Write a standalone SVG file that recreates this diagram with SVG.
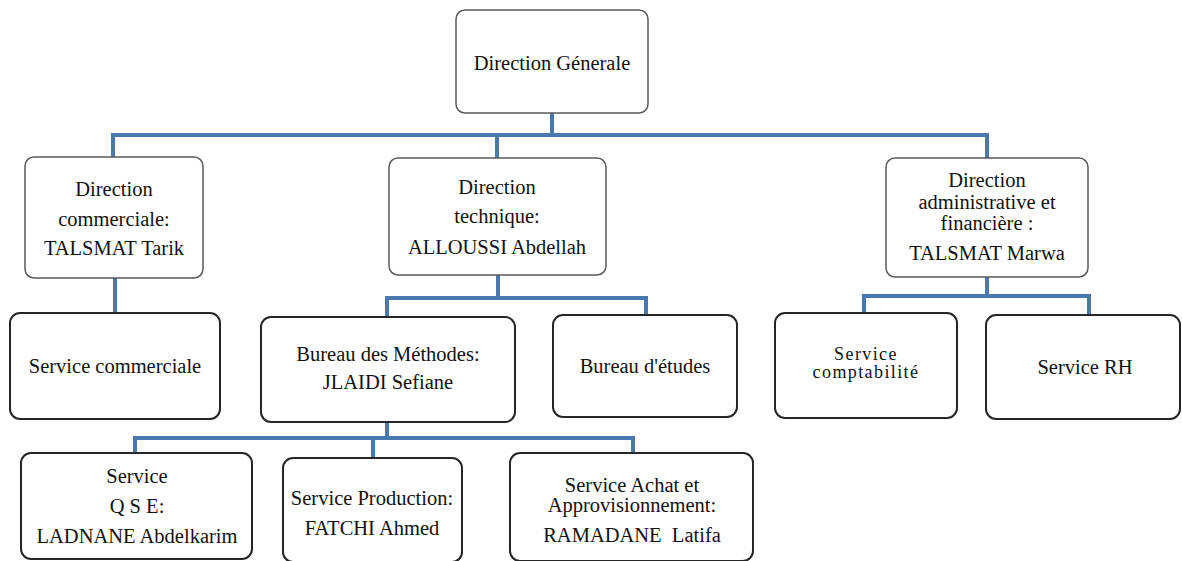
<svg xmlns="http://www.w3.org/2000/svg" width="1182" height="561" viewBox="0 0 1182 561">
<style>
  .bg { fill: #ffffff; }
  .box1 { fill: #ffffff; stroke: #5a5a5a; stroke-width: 1.5; }
  .box2 { fill: #ffffff; stroke: #262626; stroke-width: 2; }
  .conn { fill: none; stroke: #4a78b0; stroke-width: 4; stroke-linejoin: miter; }
  .lbl { font-size: 20.5px; fill: #111111; text-anchor: middle; }
  .wide { font-size: 18px; letter-spacing: 1.4px; }
</style>
<rect class="bg" x="0" y="0" width="1182" height="561"/>

<g id="connectors">
  <polyline class="conn" points="552,113 552,135"/>
  <polyline class="conn" points="113,158 113,135 987,135 987,158"/>
  <polyline class="conn" points="497,135 497,158"/>
  <polyline class="conn" points="115,278 115,313"/>
  <polyline class="conn" points="498,275 498,298"/>
  <polyline class="conn" points="387,317 387,298 646,298 646,315"/>
  <polyline class="conn" points="987,277 987,296"/>
  <polyline class="conn" points="864,313 864,296 1089,296 1089,315"/>
  <polyline class="conn" points="387,422 387,438"/>
  <polyline class="conn" points="135,453 135,438 633,438 633,453"/>
  <polyline class="conn" points="373,438 373,458"/>
</g>

<g font-family="'Liberation Serif', 'DejaVu Serif', 'Times New Roman', Times, serif">
<g id="direction-generale">
  <rect class="box1" x="456" y="10" width="192" height="103" rx="9"/>
  <text class="lbl" x="552" y="70">Direction Génerale</text>
</g>

<g id="direction-commerciale">
  <rect class="box1" x="25" y="157" width="178" height="121" rx="9"/>
  <text class="lbl" x="114" y="196">Direction</text>
  <text class="lbl" x="114" y="226">commerciale:</text>
  <text class="lbl" x="114" y="255">TALSMAT Tarik</text>
</g>

<g id="direction-technique">
  <rect class="box1" x="389" y="158" width="217" height="117" rx="9"/>
  <text class="lbl" x="497" y="194">Direction</text>
  <text class="lbl" x="497" y="223">technique:</text>
  <text class="lbl" x="497" y="254">ALLOUSSI Abdellah</text>
</g>

<g id="direction-administrative">
  <rect class="box1" x="886" y="158" width="202" height="119" rx="9"/>
  <text class="lbl" x="987" y="187">Direction</text>
  <text class="lbl" x="987" y="209">administrative et</text>
  <text class="lbl" x="987" y="230">financière :</text>
  <text class="lbl" x="987" y="260">TALSMAT Marwa</text>
</g>

<g id="service-commerciale">
  <rect class="box2" x="10" y="313" width="210" height="106" rx="10"/>
  <text class="lbl" x="115" y="373">Service commerciale</text>
</g>

<g id="bureau-methodes">
  <rect class="box2" x="261" y="317" width="254" height="105" rx="10"/>
  <text class="lbl" x="388" y="361">Bureau des Méthodes:</text>
  <text class="lbl" x="388" y="389">JLAIDI Sefiane</text>
</g>

<g id="bureau-etudes">
  <rect class="box2" x="553" y="315" width="184" height="102" rx="10"/>
  <text class="lbl" x="645" y="373">Bureau d'études</text>
</g>

<g id="service-comptabilite">
  <rect class="box2" x="775" y="313" width="182" height="105" rx="10"/>
  <text class="lbl wide" x="866" y="360">Service</text>
  <text class="lbl wide" x="866" y="378">comptabilité</text>
</g>

<g id="service-rh">
  <rect class="box2" x="986" y="315" width="194" height="104" rx="10"/>
  <text class="lbl" x="1085" y="374">Service RH</text>
</g>

<g id="service-qse">
  <rect class="box2" x="21" y="453" width="231" height="106" rx="10"/>
  <text class="lbl" x="137" y="483">Service</text>
  <text class="lbl" x="137" y="513">Q S E:</text>
  <text class="lbl" x="137" y="543">LADNANE Abdelkarim</text>
</g>

<g id="service-production">
  <rect class="box2" x="283" y="458" width="179" height="104" rx="10"/>
  <text class="lbl" x="372" y="505">Service Production:</text>
  <text class="lbl" x="372" y="535">FATCHI Ahmed</text>
</g>

<g id="service-achat">
  <rect class="box2" x="510" y="453" width="243" height="108" rx="10"/>
  <text class="lbl" x="632" y="492">Service Achat et</text>
  <text class="lbl" x="632" y="512">Approvisionnement:</text>
  <text class="lbl" x="632" y="542" xml:space="preserve">RAMADANE  Latifa</text>
</g>
</g>
</svg>
